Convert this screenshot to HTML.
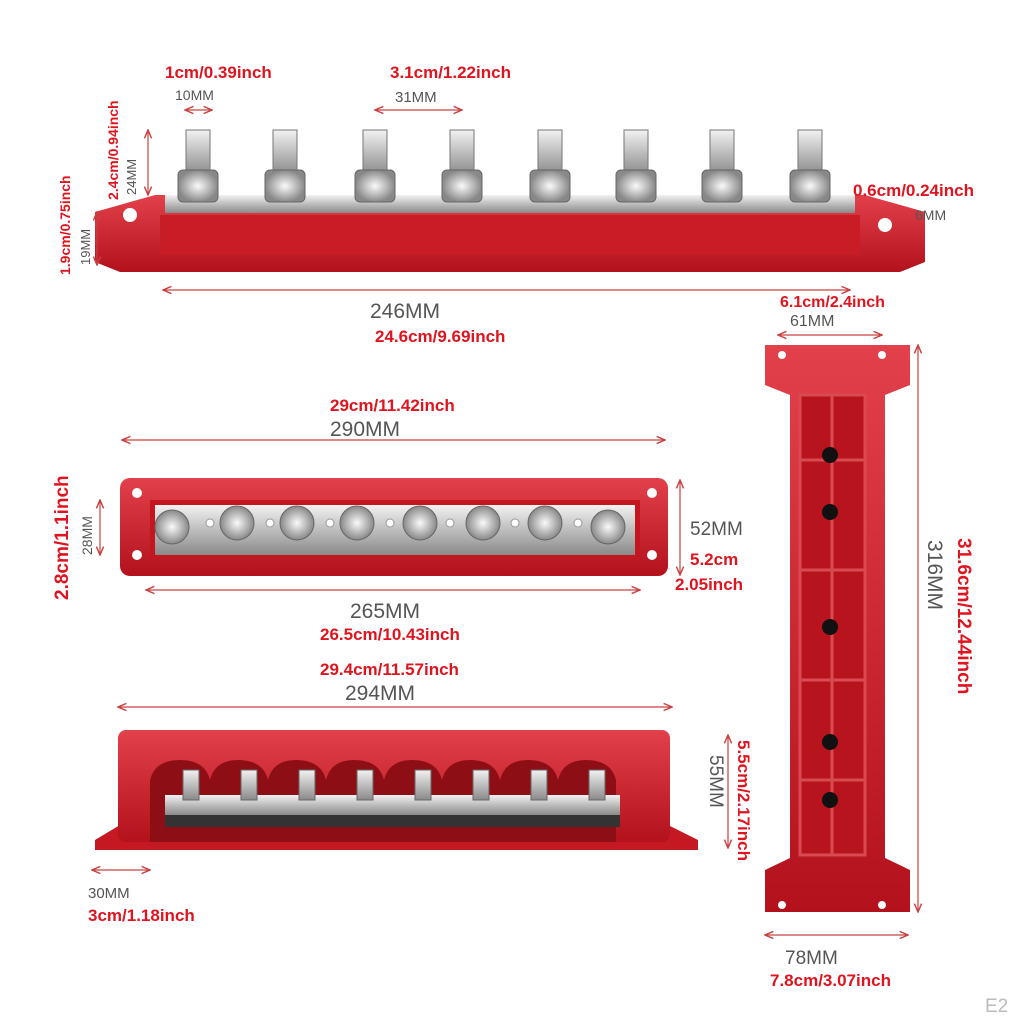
<!DOCTYPE html>
<html><head><meta charset="utf-8"><style>
html,body{margin:0;padding:0;background:#fff}
svg{display:block}
.r{fill:#e0141e;font-family:"Liberation Sans",sans-serif;font-weight:bold}
.g{fill:#555;font-family:"Liberation Sans",sans-serif}
.d{stroke:#c94040;stroke-width:1.2;fill:none}
</style></head><body>
<svg width="1024" height="1024" viewBox="0 0 1024 1024" xmlns="http://www.w3.org/2000/svg">
<defs>
<marker id="a" markerWidth="8" markerHeight="8" refX="7" refY="4" orient="auto-start-reverse"><path d="M0,1 L7,4 L0,7" fill="none" stroke="#c94040" stroke-width="1.2"/></marker>
<linearGradient id="sil" x1="0" y1="0" x2="0" y2="1"><stop offset="0" stop-color="#f2f2f2"/><stop offset=".5" stop-color="#bdbdbd"/><stop offset="1" stop-color="#8a8a8a"/></linearGradient>
<linearGradient id="red" x1="0" y1="0" x2="0" y2="1"><stop offset="0" stop-color="#e2404a"/><stop offset="1" stop-color="#b3121c"/></linearGradient>
<radialGradient id="nut"><stop offset="0" stop-color="#fafafa"/><stop offset="1" stop-color="#888"/></radialGradient>
</defs>

<!-- TOP VIEW -->
<path d="M95,212 L155,195 L865,195 L925,212 L925,262 L900,272 L120,272 L95,262 Z" fill="url(#red)"/>
<rect x="160" y="215" width="700" height="40" fill="#c81c26"/>
<circle cx="130" cy="215" r="7" fill="#fff"/><circle cx="885" cy="225" r="7" fill="#fff"/>
<rect x="165" y="195" width="690" height="18" fill="url(#silver)" style="fill:url(#sil)"/>
<g fill="url(#sil)" stroke="#777" stroke-width="1">
<rect x="186" y="130" width="24" height="45"/><rect x="273" y="130" width="24" height="45"/><rect x="363" y="130" width="24" height="45"/><rect x="450" y="130" width="24" height="45"/><rect x="538" y="130" width="24" height="45"/><rect x="624" y="130" width="24" height="45"/><rect x="710" y="130" width="24" height="45"/><rect x="798" y="130" width="24" height="45"/>
</g>
<g fill="url(#nut)" stroke="#666">
<rect x="178" y="170" width="40" height="32" rx="5"/><rect x="265" y="170" width="40" height="32" rx="5"/><rect x="355" y="170" width="40" height="32" rx="5"/><rect x="442" y="170" width="40" height="32" rx="5"/><rect x="530" y="170" width="40" height="32" rx="5"/><rect x="616" y="170" width="40" height="32" rx="5"/><rect x="702" y="170" width="40" height="32" rx="5"/><rect x="790" y="170" width="40" height="32" rx="5"/>
</g>
<line class="d" x1="163" y1="290" x2="850" y2="290" marker-start="url(#a)" marker-end="url(#a)"/>
<line class="d" x1="778" y1="335" x2="882" y2="335" marker-start="url(#a)" marker-end="url(#a)"/>
<line class="d" x1="185" y1="110" x2="212" y2="110" marker-start="url(#a)" marker-end="url(#a)"/>
<line class="d" x1="375" y1="110" x2="462" y2="110" marker-start="url(#a)" marker-end="url(#a)"/>
<line class="d" x1="148" y1="130" x2="148" y2="195" marker-start="url(#a)" marker-end="url(#a)"/>
<line class="d" x1="97" y1="212" x2="97" y2="265" marker-start="url(#a)" marker-end="url(#a)"/>
<text class="r" x="165" y="78" font-size="17">1cm/0.39inch</text>
<text class="g" x="175" y="100" font-size="14">10MM</text>
<text class="r" x="390" y="78" font-size="17">3.1cm/1.22inch</text>
<text class="g" x="395" y="102" font-size="15">31MM</text>
<text class="r" x="853" y="196" font-size="17">0.6cm/0.24inch</text>
<text class="g" x="915" y="220" font-size="14">6MM</text>
<text class="g" x="370" y="318" font-size="21">246MM</text>
<text class="r" x="375" y="342" font-size="17">24.6cm/9.69inch</text>
<text class="r" x="780" y="307" font-size="16">6.1cm/2.4inch</text>
<text class="g" x="790" y="326" font-size="16">61MM</text>
<text class="r" transform="translate(118,200) rotate(-90)" font-size="14">2.4cm/0.94inch</text>
<text class="g" transform="translate(136,195) rotate(-90)" font-size="13">24MM</text>
<text class="r" transform="translate(70,275) rotate(-90)" font-size="14">1.9cm/0.75inch</text>
<text class="g" transform="translate(90,265) rotate(-90)" font-size="13">19MM</text>

<!-- MIDDLE VIEW -->
<rect x="120" y="478" width="548" height="98" rx="10" fill="url(#red)"/>
<rect x="150" y="500" width="490" height="58" fill="#c4161f"/>
<rect x="155" y="505" width="480" height="50" fill="url(#sil)"/>
<g fill="#fff"><circle cx="137" cy="493" r="5"/><circle cx="137" cy="555" r="5"/><circle cx="652" cy="493" r="5"/><circle cx="652" cy="555" r="5"/></g>
<g fill="url(#nut)" stroke="#666">
<circle cx="172" cy="527" r="17"/><circle cx="237" cy="523" r="17"/><circle cx="297" cy="523" r="17"/><circle cx="357" cy="523" r="17"/><circle cx="420" cy="523" r="17"/><circle cx="483" cy="523" r="17"/><circle cx="545" cy="523" r="17"/><circle cx="608" cy="527" r="17"/>
</g>
<g fill="#fff" stroke="#999"><circle cx="210" cy="523" r="4"/><circle cx="270" cy="523" r="4"/><circle cx="330" cy="523" r="4"/><circle cx="390" cy="523" r="4"/><circle cx="450" cy="523" r="4"/><circle cx="515" cy="523" r="4"/><circle cx="578" cy="523" r="4"/></g>
<line class="d" x1="122" y1="440" x2="665" y2="440" marker-start="url(#a)" marker-end="url(#a)"/>
<line class="d" x1="146" y1="590" x2="640" y2="590" marker-start="url(#a)" marker-end="url(#a)"/>
<line class="d" x1="680" y1="480" x2="680" y2="575" marker-start="url(#a)" marker-end="url(#a)"/>
<line class="d" x1="100" y1="500" x2="100" y2="555" marker-start="url(#a)" marker-end="url(#a)"/>
<text class="r" x="330" y="411" font-size="17">29cm/11.42inch</text>
<text class="g" x="330" y="436" font-size="21">290MM</text>
<text class="r" transform="translate(68,600) rotate(-90)" font-size="19">2.8cm/1.1inch</text>
<text class="g" transform="translate(92,555) rotate(-90)" font-size="14">28MM</text>
<text class="g" x="690" y="535" font-size="19">52MM</text>
<text class="r" x="690" y="565" font-size="17">5.2cm</text>
<text class="r" x="675" y="590" font-size="17">2.05inch</text>
<text class="g" x="350" y="618" font-size="21">265MM</text>
<text class="r" x="320" y="640" font-size="17">26.5cm/10.43inch</text>

<!-- BOTTOM-LEFT VIEW -->
<path d="M95,840 L120,825 L668,825 L698,840 L698,850 L95,850 Z" fill="#c41822"/>
<rect x="118" y="730" width="552" height="112" rx="8" fill="url(#red)"/>
<path d="M150,842 L150,780 Q155,760 180,760 Q205,760 210,780 Q215,760 238,760 Q263,760 268,780 Q273,760 296,760 Q321,760 326,780 Q331,760 354,760 Q379,760 384,780 Q389,760 412,760 Q437,760 442,780 Q447,760 470,760 Q495,760 500,780 Q505,760 528,760 Q553,760 558,780 Q563,760 586,760 Q611,760 616,780 L616,842 Z" fill="#8e0e16"/>
<rect x="165" y="795" width="455" height="20" fill="url(#sil)"/>
<rect x="165" y="815" width="455" height="12" fill="#333"/>
<g fill="url(#sil)" stroke="#666"><rect x="183" y="770" width="16" height="30"/><rect x="241" y="770" width="16" height="30"/><rect x="299" y="770" width="16" height="30"/><rect x="357" y="770" width="16" height="30"/><rect x="415" y="770" width="16" height="30"/><rect x="473" y="770" width="16" height="30"/><rect x="531" y="770" width="16" height="30"/><rect x="589" y="770" width="16" height="30"/></g>
<line class="d" x1="118" y1="707" x2="672" y2="707" marker-start="url(#a)" marker-end="url(#a)"/>
<line class="d" x1="92" y1="870" x2="150" y2="870" marker-start="url(#a)" marker-end="url(#a)"/>
<line class="d" x1="728" y1="735" x2="728" y2="848" marker-start="url(#a)" marker-end="url(#a)"/>
<text class="r" x="320" y="675" font-size="17">29.4cm/11.57inch</text>
<text class="g" x="345" y="700" font-size="21">294MM</text>
<text class="g" x="88" y="898" font-size="15">30MM</text>
<text class="r" x="88" y="921" font-size="17">3cm/1.18inch</text>
<text class="r" transform="translate(738,740) rotate(90)" font-size="17">5.5cm/2.17inch</text>
<text class="g" transform="translate(710,755) rotate(90)" font-size="19">55MM</text>

<!-- RIGHT VIEW -->
<path d="M765,345 L910,345 L910,385 L885,395 L885,858 L910,870 L910,912 L765,912 L765,870 L790,858 L790,395 L765,385 Z" fill="url(#red)"/>
<rect x="800" y="395" width="65" height="460" fill="#b8141e" stroke="#d84a52" stroke-width="3"/>
<g stroke="#d84a52" stroke-width="3"><line x1="800" y1="460" x2="865" y2="460"/><line x1="800" y1="570" x2="865" y2="570"/><line x1="800" y1="680" x2="865" y2="680"/><line x1="800" y1="780" x2="865" y2="780"/><line x1="832" y1="395" x2="832" y2="855"/></g>
<g fill="#111"><circle cx="830" cy="455" r="8"/><circle cx="830" cy="512" r="8"/><circle cx="830" cy="627" r="8"/><circle cx="830" cy="742" r="8"/><circle cx="830" cy="800" r="8"/></g>
<g fill="#fff"><circle cx="782" cy="355" r="4"/><circle cx="882" cy="355" r="4"/><circle cx="782" cy="905" r="4"/><circle cx="882" cy="905" r="4"/></g>
<line class="d" x1="918" y1="345" x2="918" y2="912" marker-start="url(#a)" marker-end="url(#a)"/>
<line class="d" x1="765" y1="935" x2="908" y2="935" marker-start="url(#a)" marker-end="url(#a)"/>
<text class="r" transform="translate(958,538) rotate(90)" font-size="19">31.6cm/12.44inch</text>
<text class="g" transform="translate(928,540) rotate(90)" font-size="21">316MM</text>
<text class="g" x="785" y="964" font-size="19">78MM</text>
<text class="r" x="770" y="986" font-size="17">7.8cm/3.07inch</text>
<text class="g" x="985" y="1012" font-size="19" fill="#bbb" style="fill:#bbb">E2</text>
</svg>
</body></html>
